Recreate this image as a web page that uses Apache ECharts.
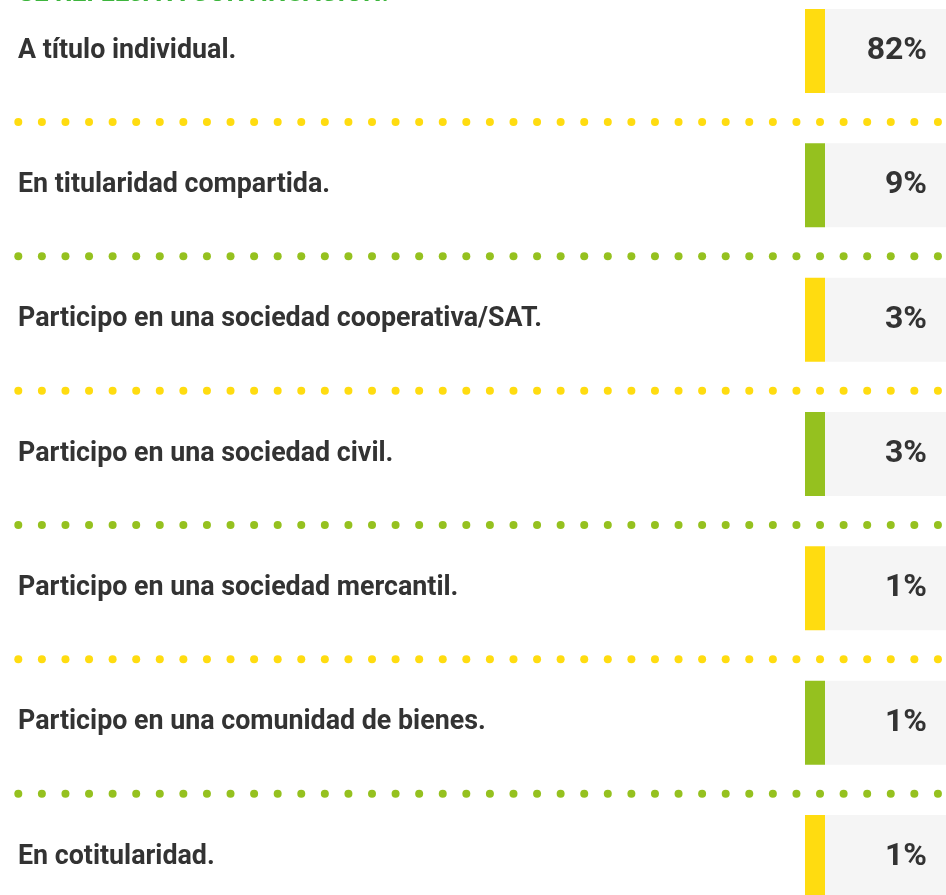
<!DOCTYPE html>
<html>
<head>
<meta charset="utf-8">
<script src="https://cdn.jsdelivr.net/npm/echarts@6/dist/echarts.min.js"></script>
<style>html,body{margin:0;padding:0;background:#fff;}#c{width:946px;height:895px;}</style>
</head>
<body>
<div id="c"></div>
<script>
var titleText = 'SE REFLEJA A CONTINUACIÓN:';
var categories = [
  'A título individual.',
  'En titularidad compartida.',
  'Participo en una sociedad cooperativa/SAT.',
  'Participo en una sociedad civil.',
  'Participo en una sociedad mercantil.',
  'Participo en una comunidad de bienes.',
  'En cotitularidad.'
];
var values = [82, 9, 3, 3, 1, 1, 1];
var rowColors = ['#FFDC10', '#95C11F'];

var chart = echarts.init(document.getElementById('c'), null, {renderer: 'canvas'});
var data = categories.map(function (c, i) { return [0, i, values[i]]; });

function renderItem(params, api) {
  var idx = api.value(1);
  var val = api.value(2);
  var pt = api.coord([0, idx]);
  var cy = pt[1];
  var W = api.getWidth();
  var color = rowColors[idx % 2];
  var boxH = 84;
  var children = [
    {type: 'rect', shape: {x: 825, y: cy - boxH / 2, width: W - 825, height: boxH}, style: {fill: '#F5F5F5'}},
    {type: 'rect', shape: {x: 805, y: cy - boxH / 2, width: 20, height: boxH}, style: {fill: color}},
    {type: 'text', x: 18, y: cy, style: {text: categories[idx], fill: '#333333', font: 'bold 26.8px Roboto', verticalAlign: 'middle', align: 'left'}},
    {type: 'text', x: 927, y: cy, style: {text: val + '%', fill: '#333333', font: 'bold 32px Roboto', verticalAlign: 'middle', align: 'right'}}
  ];
  if (idx < categories.length - 1) {
    for (var k = 0; k < 40; k++) {
      children.push({type: 'circle', shape: {cx: 18.3 + k * 23.58, cy: cy + 71, r: 4}, style: {fill: color}});
    }
  }
  return {type: 'group', children: children};
}

chart.setOption({
  animation: false,
  backgroundColor: '#ffffff',
  graphic: [{
    type: 'text', x: 18, y: 7,
    style: {text: titleText, fill: '#3DB53D', font: 'bold 26px Roboto', verticalAlign: 'bottom', align: 'left'}
  }],
  grid: {left: 0, right: 0, top: 51, bottom: 38},
  xAxis: {type: 'value', min: 0, max: 1, show: false},
  yAxis: {type: 'category', data: categories, inverse: true, boundaryGap: false, show: false},
  series: [{
    type: 'custom',
    renderItem: renderItem,
    encode: {x: 0, y: 1},
    data: data
  }]
});
</script>
</body>
</html>
